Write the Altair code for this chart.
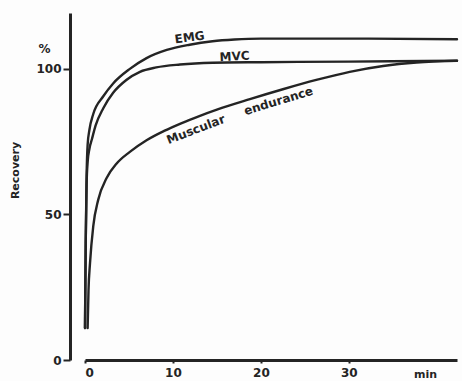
import altair as alt
import pandas as pd

# Recovery (% of pre-fatigue level) against time after exercise (min)
emg_t = [0, 0.08, 0.18, 0.3, 0.5, 0.94, 2.08, 3.2, 5.1, 7.0, 9.3, 11.9, 14.5, 17, 20, 30, 42.3]
emg_v = [11, 40, 63, 74, 79, 84.5, 90.6, 95, 100, 103.7, 106.5, 108.3, 109.5, 110.1, 110.4, 110.4, 110.2]

mvc_t = [0, 0.08, 0.18, 0.3, 0.5, 0.8, 1.2, 2.08, 3.2, 4.7, 6.25, 8.1, 10.8, 14.5, 20, 30, 42.3]
mvc_v = [11, 40, 60, 68, 72.5, 76, 80.5, 86.5, 91.8, 96.2, 99, 100.5, 101.5, 102.1, 102.3, 102.5, 102.8]

end_t = [0.3, 0.4, 0.57, 0.94, 1.5, 2.46, 3.6, 5.1, 7.0, 9.0, 11, 13, 15, 18.75,
         22.5, 26.3, 30.1, 33.9, 37.7, 42.3]
end_v = [11, 24, 33.3, 46, 55, 62.5, 67.5, 71.5, 75.5, 78.7, 81.4, 83.8, 86, 89.6,
         93, 96.2, 99, 101, 102.2, 102.8]

# Curve labels: text, time, level, rotation
label_text = ["EMG", "MVC", "Muscular", "endurance", "%"]
label_t = [11.9, 17.0, 12.6, 22.0, -4.6]
label_v = [110.8, 104.3, 79.2, 89.0, 106.8]
label_angle = [352, 357, 339, 343, 0]
label_size = [12, 12, 12, 12, 12]

rows = []
for name, ts, vs in [("EMG", emg_t, emg_v), ("MVC", mvc_t, mvc_v),
                     ("Muscular endurance", end_t, end_v)]:
    for t, v in zip(ts, vs):
        rows.append({"series": name, "t": t, "v": v})
curves = pd.DataFrame(rows)

labels = pd.DataFrame({"text": label_text, "t": label_t, "v": label_v,
                       "angle": label_angle, "size": label_size})

ink = "#242424"
font = "DejaVu Sans"

x_scale = alt.Scale(domain=[0, 42.3], nice=False, zero=False)
y_scale = alt.Scale(domain=[0, 119.2], nice=False)

lines = alt.Chart(curves).mark_line(
    interpolate="monotone", strokeWidth=2.4, color=ink,
    strokeCap="round", strokeJoin="round"
).encode(
    x=alt.X("t:Q", scale=x_scale,
            axis=alt.Axis(values=[0, 10, 20, 30], title="min",
                          titleX=340, titleY=14, titleBaseline="middle",
                          titleFontSize=11, tickSize=3, labelPadding=4)),
    y=alt.Y("v:Q", scale=y_scale,
            axis=alt.Axis(values=[0, 50, 100], title="Recovery", offset=15,
                          titleX=-55, titleY=157, titleBaseline="middle",
                          titleFontSize=11, tickSize=7, labelPadding=2)),
    detail="series:N",
)

texts = alt.Chart(labels).mark_text(
    font=font, fontWeight="bold", color=ink, baseline="middle", align="center"
).encode(
    x=alt.X("t:Q", scale=x_scale),
    y=alt.Y("v:Q", scale=y_scale),
    text="text:N",
    angle=alt.Angle("angle:Q", scale=None),
    size=alt.Size("size:Q", scale=None),
)

chart = alt.layer(lines, texts).properties(
    width=372, height=347,
    padding={"left": 85, "top": 13, "right": 5, "bottom": 21},
    autosize=alt.AutoSizeParams(type="none"),
    background="#fdfdfd",
).configure_view(stroke=None).configure_axis(
    grid=False, domainColor=ink, domainWidth=3, tickColor=ink, tickWidth=2,
    labelFont=font, labelFontWeight="bold", labelFontSize=12, labelColor=ink,
    titleFont=font, titleFontWeight="bold", titleColor=ink,
)

chart.save("out.html", embed_options={"renderer": "svg", "actions": False})
